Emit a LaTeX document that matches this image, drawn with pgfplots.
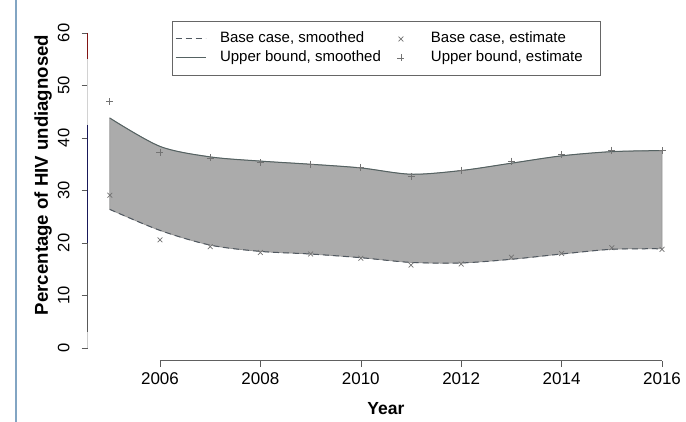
\documentclass[border=0pt]{standalone}
\usepackage{fontspec}
\setmainfont{Liberation Sans}
\usepackage{pgfplots}
\usepackage{pgfplotstable}
\pgfplotsset{compat=1.18}
\usepgfplotslibrary{fillbetween}

\definecolor{bandfill}{RGB}{171,171,171}
\definecolor{bandedge}{RGB}{150,150,150}
\definecolor{upline}{RGB}{85,98,98}
\definecolor{lowline}{RGB}{80,88,96}
\definecolor{markgray}{RGB}{115,115,115}
\definecolor{pageline}{RGB}{130,165,195}
\definecolor{axred}{RGB}{130,20,20}
\definecolor{axnavy}{RGB}{25,25,90}

\pgfplotsset{
  lineleg/.style={legend image code/.code={\draw[##1] (0pt,0pt) -- (30pt,0pt);}},
  markleg/.style={legend image code/.code={\path[draw=none,fill=none] (-6pt,0pt) (16pt,0pt); \draw[##1] plot coordinates {(0pt,0pt)};}},
}

\pgfplotstableread{
year up low
2005 43.8 26.4
2006 38.4 22.4
2007 36.4 19.6
2008 35.6 18.4
2009 35.0 17.9
2010 34.3 17.2
2011 33.1 16.3
2012 33.8 16.2
2013 35.2 16.9
2014 36.6 17.9
2015 37.4 18.8
2016 37.6 18.9
}\smoothdata

\pgfplotstableread{
year base upper
2005 29.1 46.9
2006 20.6 37.3
2007 19.3 36.2
2008 18.2 35.3
2009 17.9 35.0
2010 17.1 34.4
2011 15.8 32.7
2012 16.0 33.9
2013 17.3 35.6
2014 18.0 36.8
2015 19.1 37.7
2016 18.8 37.6
}\estdata

\begin{document}
\begin{tikzpicture}[x=1pt,y=1pt]
\fill[pageline] (15,0) rectangle (17.2,422);
\begin{axis}[
  at={(87.7pt,61.4pt)}, anchor=south west,
  scale only axis, width=596.4pt, height=340.2pt,
  xmin=2004.56, xmax=2016.44, ymin=-2.4, ymax=62.4,
  axis x line*=bottom, axis y line*=left,
  axis line style={draw=none},
  clip=false,
  tick align=outside, major tick length=6pt,
  tick style={draw=gray!70!black, line width=0.6pt},
  xtick={2006,2008,...,2016}, xticklabels={2006,2008,2010,2012,2014,2016},
  ytick={0,10,...,60}, yticklabels={0,10,20,30,40,50,60},
  xticklabel style={font=\fontsize{17}{20}\selectfont, inner sep=0pt, yshift=-6pt, anchor=north},
  yticklabel style={font=\fontsize{16.5}{20}\selectfont, inner sep=0pt, xshift=-12pt, rotate=90, anchor=south},
  xlabel={Year},
  xlabel style={font=\bfseries\fontsize{17.5}{20}\selectfont, inner sep=0pt, at={(axis description cs:0.5,-0.1584)}, anchor=base},
  ylabel={Percentage of HIV undiagnosed},
  ylabel style={font=\bfseries\fontsize{18.6}{22}\selectfont, inner sep=0pt, at={(axis description cs:-0.0666,0.5456)}, anchor=base, rotate=0},
  legend columns=2,
  legend cell align=left,
  legend style={draw=none, fill=none, inner sep=0pt, outer sep=0pt,
    at={(axis description cs:0.1464,0.9659)}, anchor=north west,
    column sep=14pt, row sep=5pt,
    font=\fontsize{15}{18}\selectfont,
    nodes={inner sep=0pt, text height=11pt, text depth=3pt}},
]
\addplot[draw=none, name path=U, smooth, forget plot] table[x=year,y=up] {\smoothdata};
\addplot[draw=none, name path=L, smooth, forget plot] table[x=year,y=low] {\smoothdata};
\addplot[fill=bandfill, draw=bandedge, line width=0.7pt, forget plot] fill between[of=U and L];

\addplot[lowline, line width=1pt, dash pattern=on 6pt off 4pt, smooth, lineleg]
  table[x=year,y=low] {\smoothdata};
\addlegendentry{Base case, smoothed}
\addplot[only marks, mark=x, mark size=3.4pt, markgray, line width=0.7pt, markleg]
  table[x=year,y=base] {\estdata};
\addlegendentry{Base case, estimate}
\addplot[upline, line width=1pt, smooth, lineleg]
  table[x=year,y=up] {\smoothdata};
\addlegendentry{Upper bound, smoothed}
\addplot[only marks, mark=+, mark size=3.5pt, markgray, line width=0.7pt, markleg]
  table[x=year,y=upper] {\estdata};
\addlegendentry{Upper bound, estimate}

\draw[gray!75!black, line width=0.7pt] (axis cs:2006,-2.4) -- (axis cs:2016,-2.4);
\draw[axred, line width=0.9pt] (axis cs:2004.56,60) -- (axis cs:2004.56,55);
\draw[gray!35, line width=0.9pt] (axis cs:2004.56,55) -- (axis cs:2004.56,42.5);
\draw[axnavy, line width=0.9pt] (axis cs:2004.56,42.5) -- (axis cs:2004.56,20);
\draw[gray!70!black, line width=0.8pt] (axis cs:2004.56,20) -- (axis cs:2004.56,3);
\draw[gray!40, line width=0.8pt] (axis cs:2004.56,3) -- (axis cs:2004.56,0);
\end{axis}
\draw[gray!80!black, line width=0.8pt] (172,401) rectangle (600,347);
\pgfresetboundingbox
\useasboundingbox (0,0) rectangle (686,422);
\end{tikzpicture}
\end{document}
